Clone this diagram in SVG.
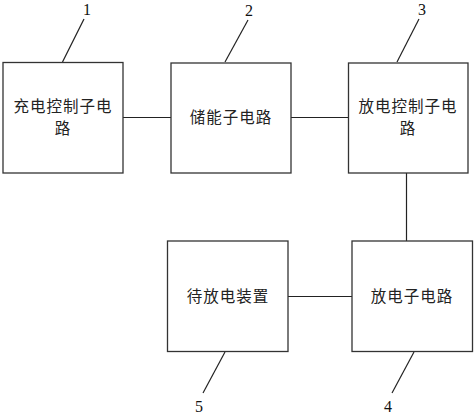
<svg xmlns="http://www.w3.org/2000/svg" width="474" height="415" viewBox="0 0 474 415">
<style>
.box{fill:#fff;stroke:#333;stroke-width:1.3}
.ln{stroke:#222;stroke-width:1.2;fill:none}
.t{font-family:"Noto Sans CJK SC","Noto Sans CJK JP",sans-serif;font-size:15.5px;fill:#222;text-anchor:middle;letter-spacing:1px}
.n{font-family:"Liberation Serif",serif;font-size:16px;fill:#111;text-anchor:middle}
</style>
<rect width="474" height="415" fill="#fff"/>
<g id="connectors">
<line class="ln" x1="123" y1="117.5" x2="171" y2="117.5"/>
<line class="ln" x1="291" y1="117.5" x2="348" y2="117.5"/>
<line class="ln" x1="406.5" y1="173" x2="406.5" y2="241"/>
<line class="ln" x1="288" y1="296.5" x2="352" y2="296.5"/>
<line class="ln" x1="84" y1="19" x2="62.5" y2="62"/>
<line class="ln" x1="248" y1="20" x2="225" y2="62"/>
<line class="ln" x1="419" y1="19" x2="397" y2="62"/>
<line class="ln" x1="225" y1="352" x2="203" y2="393"/>
<line class="ln" x1="414" y1="352" x2="392" y2="393"/>
</g>
<g id="node1">
<rect class="box" x="3" y="62.5" width="120" height="110.5"/>
<text class="t" x="63" y="112">充电控制子电</text>
<text class="t" x="63" y="134">路</text>
<text class="n" x="87" y="15">1</text>
</g>
<g id="node2">
<rect class="box" x="171" y="63" width="120" height="110"/>
<text class="t" x="231" y="123">储能子电路</text>
<text class="n" x="249" y="16">2</text>
</g>
<g id="node3">
<rect class="box" x="348.5" y="63" width="119.5" height="110"/>
<text class="t" x="408" y="112">放电控制子电</text>
<text class="t" x="408" y="134">路</text>
<text class="n" x="422" y="15">3</text>
</g>
<g id="node4">
<rect class="box" x="352" y="241" width="120.5" height="110.5"/>
<text class="t" x="412" y="302">放电子电路</text>
<text class="n" x="388" y="412">4</text>
</g>
<g id="node5">
<rect class="box" x="167.5" y="241" width="120.5" height="110.5"/>
<text class="t" x="228" y="302">待放电装置</text>
<text class="n" x="199" y="412">5</text>
</g>
</svg>
